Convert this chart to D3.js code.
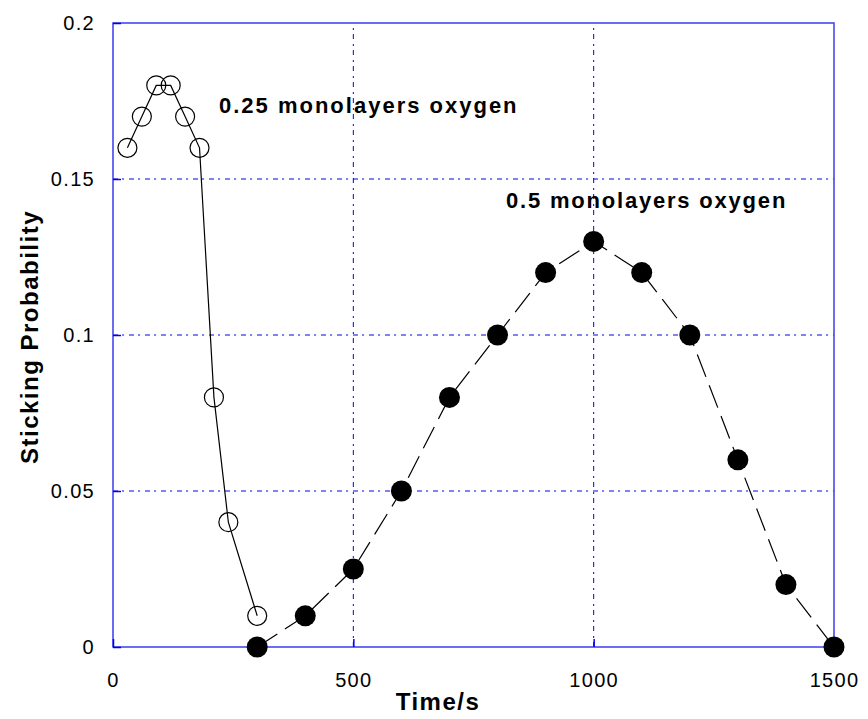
<!DOCTYPE html>
<html>
<head>
<meta charset="utf-8">
<script src="https://cdn.jsdelivr.net/npm/d3@7"></script>
<style>
  body { margin: 0; background: #fff; }
  text { font-family: "Liberation Sans", Arial, sans-serif; }
</style>
</head>
<body>
<div id="chart"></div>
<script>
// 0.25 monolayers oxygen (open circles)
const lowTime = [30, 60, 90, 120, 150, 180, 210, 240, 300];
const lowProb = [0.16, 0.17, 0.18, 0.18, 0.17, 0.16, 0.08, 0.04, 0.01];

// 0.5 monolayers oxygen (filled circles)
const highTime = [300, 400, 500, 600, 700, 800, 900, 1000, 1100, 1200, 1300, 1400, 1500];
const highProb = [0, 0.01, 0.025, 0.05, 0.08, 0.1, 0.12, 0.13, 0.12, 0.1, 0.06, 0.02, 0];

const xTicks = [0, 500, 1000, 1500];
const yTicks = [0, 0.05, 0.1, 0.15, 0.2];

const width = 868, height = 719;
const margin = {left: 113, top: 23, right: 34, bottom: 72};

const svg = d3.select("#chart").append("svg")
    .attr("width", width)
    .attr("height", height);

const x = d3.scaleLinear().domain([0, 1500]).range([margin.left, width - margin.right]);
const y = d3.scaleLinear().domain([0, 0.2]).range([height - margin.bottom, margin.top]);

// grid lines
svg.append("g").selectAll("line")
  .data(yTicks.slice(1, -1))
  .enter().append("line")
    .attr("x1", x(0)).attr("x2", x(1500))
    .attr("y1", d => y(d)).attr("y2", d => y(d))
    .attr("stroke", "#0000f0")
    .attr("stroke-width", 1)
    .attr("stroke-dasharray", "5,4,2,5");

svg.append("g").selectAll("line")
  .data(xTicks.slice(1, -1))
  .enter().append("line")
    .attr("x1", d => x(d)).attr("x2", d => x(d))
    .attr("y1", y(0)).attr("y2", y(0.2))
    .attr("stroke", "#0000f0")
    .attr("stroke-width", 1)
    .attr("stroke-dasharray", "5,4,2,5");

// frame
svg.append("rect")
    .attr("x", x(0)).attr("y", y(0.2))
    .attr("width", x(1500) - x(0))
    .attr("height", y(0) - y(0.2))
    .attr("fill", "none")
    .attr("stroke", "#3b3bf0")
    .attr("stroke-width", 1.5);

// axes with inward ticks
const xAxis = svg.append("g")
    .attr("transform", `translate(0,${y(0)})`)
    .call(d3.axisBottom(x).tickValues(xTicks).tickSize(-8).tickPadding(26).tickFormat(d3.format("d")));
const yAxis = svg.append("g")
    .attr("transform", `translate(${x(0)},0)`)
    .call(d3.axisLeft(y).tickValues(yTicks).tickSize(-8).tickPadding(18).tickFormat(d => d === 0 ? "0" : String(d)));

[xAxis, yAxis].forEach(a => {
  a.select(".domain").remove();
  a.selectAll(".tick line").attr("stroke", "#0000ee").attr("stroke-width", 1.5);
  a.selectAll(".tick text")
    .attr("fill", "#000")
    .style("font-size", "20px")
    .style("letter-spacing", "1.3px")
    .style("font-family", "'Liberation Sans', Arial, sans-serif");
});
xAxis.selectAll(".tick text").attr("dy", "0.71em");

// lines
const lowData = lowTime.map((t, i) => [t, lowProb[i]]);
const highData = highTime.map((t, i) => [t, highProb[i]]);
const line = d3.line().x(d => x(d[0])).y(d => y(d[1]));

svg.append("path")
    .datum(lowData)
    .attr("d", line)
    .attr("fill", "none")
    .attr("stroke", "#000")
    .attr("stroke-width", 1.2);

svg.append("path")
    .datum(highData)
    .attr("d", line)
    .attr("fill", "none")
    .attr("stroke", "#000")
    .attr("stroke-width", 1.2)
    .attr("stroke-dasharray", "24,9");

// markers
svg.append("g").selectAll("circle")
  .data(lowData)
  .enter().append("circle")
    .attr("cx", d => x(d[0]))
    .attr("cy", d => y(d[1]))
    .attr("r", 9.5)
    .attr("fill", "none")
    .attr("stroke", "#000")
    .attr("stroke-width", 1.2);

svg.append("g").selectAll("circle")
  .data(highData)
  .enter().append("circle")
    .attr("cx", d => x(d[0]))
    .attr("cy", d => y(d[1]))
    .attr("r", 10.5)
    .attr("fill", "#000");

// annotations
svg.append("text")
    .attr("x", 219).attr("y", 113)
    .style("font-size", "22px").style("font-weight", "bold")
    .style("letter-spacing", "2px")
    .text("0.25 monolayers oxygen");
svg.append("text")
    .attr("x", 506).attr("y", 208)
    .style("font-size", "22px").style("font-weight", "bold")
    .style("letter-spacing", "1.8px")
    .text("0.5 monolayers oxygen");

// axis titles
svg.append("text")
    .attr("x", 438).attr("y", 710)
    .attr("text-anchor", "middle")
    .style("font-size", "24px").style("font-weight", "bold")
    .style("letter-spacing", "1.5px")
    .text("Time/s");
svg.append("text")
    .attr("transform", "translate(38,337) rotate(-90)")
    .attr("text-anchor", "middle")
    .style("font-size", "24px").style("font-weight", "bold")
    .style("letter-spacing", "1.5px")
    .text("Sticking Probability");
</script>
</body>
</html>
